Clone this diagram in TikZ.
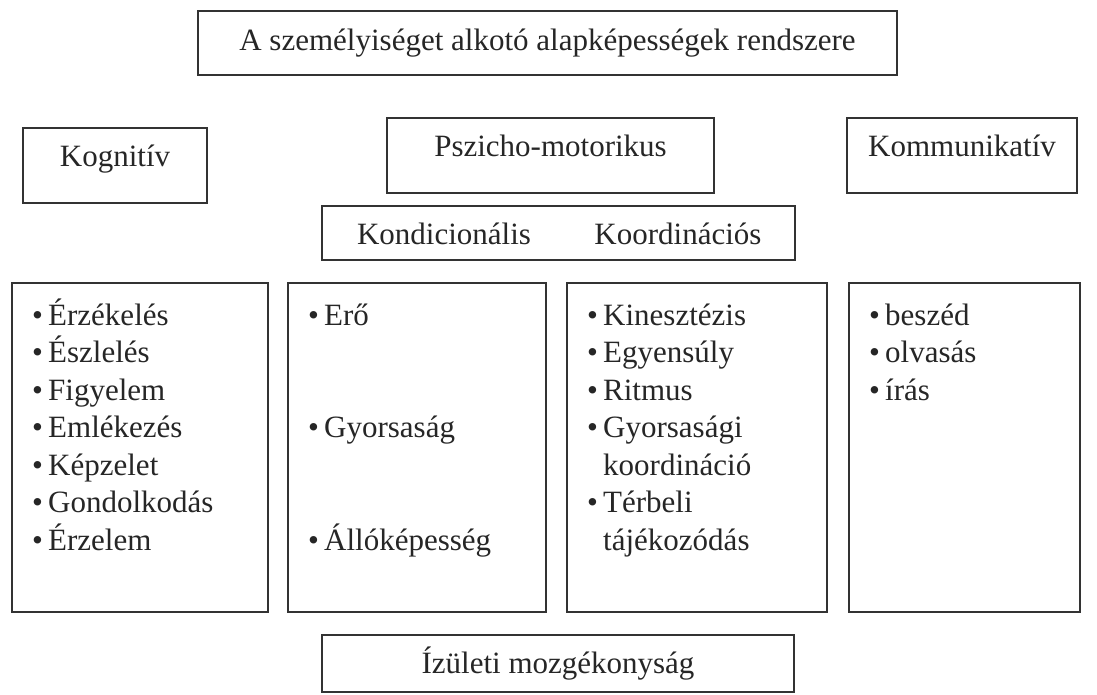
\documentclass[tikz,border=0pt]{standalone}
\usepackage{fontspec}
\setmainfont{Liberation Serif}
\usepackage{tikz}
\usetikzlibrary{arrows}
\newcommand{\pont}{\makebox[16pt][l]{\textbullet}}

\begin{document}
\begin{tikzpicture}[x=1pt,y=-1pt,
  doboz/.style={draw=black!80,line width=1.6pt,inner sep=0pt,font=\fontsize{31}{36}\selectfont,text=black!85},
  fej/.style={doboz,text height=12pt,text depth=10pt},
  tetel/.style={anchor=base west,inner sep=0pt,font=\fontsize{31}{36}\selectfont,text=black!85}]

\useasboundingbox (0,0) rectangle (1097,695);

\node[doboz,minimum width=699pt,minimum height=64pt] (cim) at (547.5,43) {A személyiséget alkotó alapképességek rendszere};

\node[fej,minimum width=184pt,minimum height=75pt] (kog) at (115,165.5) {Kognitív};
\node[fej,minimum width=327pt,minimum height=75pt] (pm) at (550.5,155.5) {Pszicho-motorikus};
\node[fej,minimum width=230pt,minimum height=75pt] (komm) at (962,155.5) {Kommunikatív};

\node[doboz,minimum width=473pt,minimum height=54pt] (kk) at (558.5,233) {};
\node[tetel,anchor=base] (kond) at (444,244) {Kondicionális}; \node[tetel,anchor=base] (koord) at (678,244) {Koordinációs};

\node[doboz,minimum width=256pt,minimum height=329pt] (b1) at (140,447.5) {};
\node[doboz,minimum width=258pt,minimum height=329pt] (b2) at (417,447.5) {};
\node[doboz,minimum width=260pt,minimum height=329pt] (b3) at (697,447.5) {};
\node[doboz,minimum width=231pt,minimum height=329pt] (b4) at (964.5,447.5) {};

\node[tetel] (k1) at (32,325) {\pont Érzékelés}; \node[tetel] (k2) at (32,362.5) {\pont Észlelés};
\node[tetel] (k3) at (32,400) {\pont Figyelem}; \node[tetel] (k4) at (32,437.5) {\pont Emlékezés};
\node[tetel] (k5) at (32,475) {\pont Képzelet}; \node[tetel] (k6) at (32,512.5) {\pont Gondolkodás};
\node[tetel] (k7) at (32,550) {\pont Érzelem};

\node[tetel] (c1) at (308,325) {\pont Erő}; \node[tetel] (c2) at (308,437.5) {\pont Gyorsaság};
\node[tetel] (c3) at (308,550) {\pont Állóképesség};

\node[tetel] (r1) at (587,325) {\pont Kinesztézis}; \node[tetel] (r2) at (587,362.5) {\pont Egyensúly};
\node[tetel] (r3) at (587,400) {\pont Ritmus}; \node[tetel] (r4) at (587,437.5) {\pont Gyorsasági};
\node[tetel] (r5) at (603,475) {koordináció}; \node[tetel] (r6) at (587,512.5) {\pont Térbeli};
\node[tetel] (r7) at (603,550) {tájékozódás};

\node[tetel] (m1) at (869,325) {\pont beszéd}; \node[tetel] (m2) at (869,362.5) {\pont olvasás};
\node[tetel] (m3) at (869,400) {\pont írás};

\node[doboz,minimum width=472pt,minimum height=57pt] (iz) at (558,663.5) {Ízületi mozgékonyság};

\end{tikzpicture}
\end{document}
